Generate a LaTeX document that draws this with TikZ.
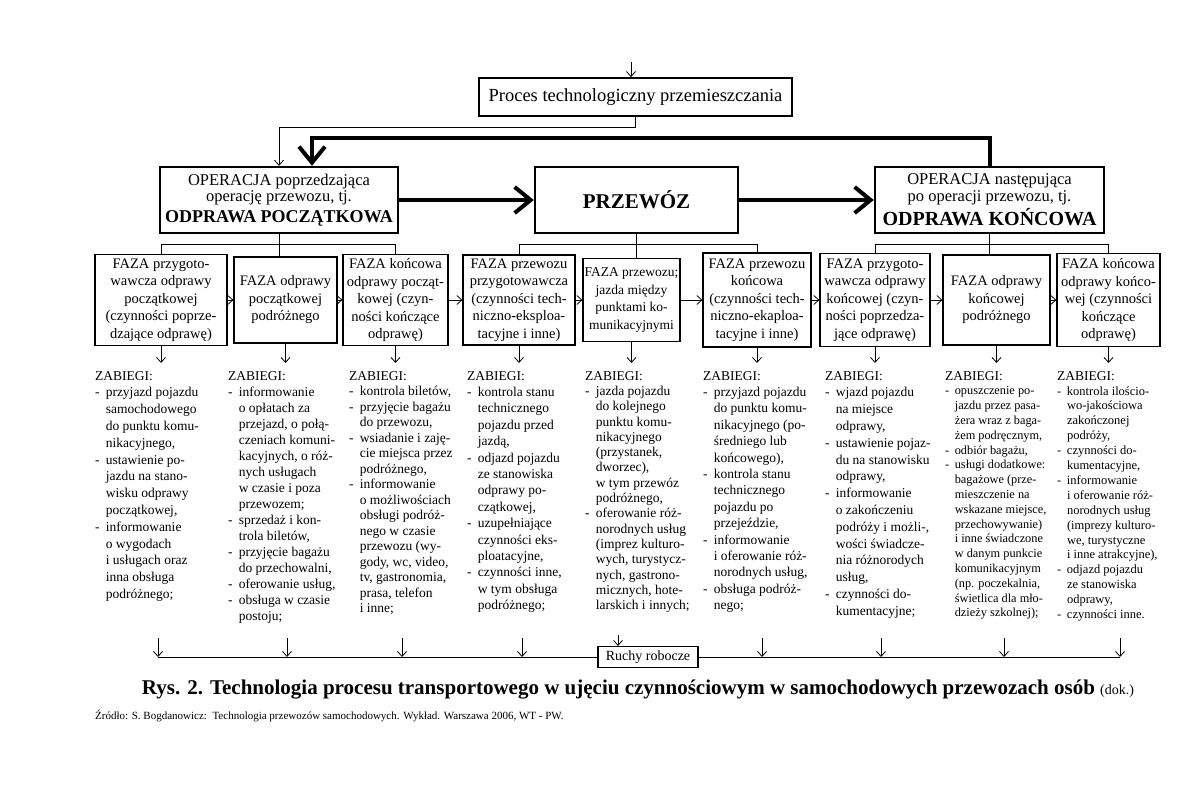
\documentclass[tikz,border=0pt]{standalone}
\usepackage{fontspec}
\setmainfont{Liberation Serif}
\usetikzlibrary{arrows.meta, positioning, calc}

% myslnik wyliczenia i wciecie kolejnych wierszy
\newcommand{\zb}{-\hspace{0.45em}}
\newcommand{\zi}{\hphantom{-\hspace{0.45em}}}

\begin{document}
\begin{tikzpicture}[x=1pt, y=-1pt,
  topbox/.style={draw, line width=1.8pt, inner sep=0pt, minimum width=313pt, minimum height=38pt, font=\fontsize{18.5}{20}\selectfont},
  opbox/.style={draw, line width=2.4pt, inner sep=0pt, align=center, minimum height=66pt, font=\fontsize{16.5}{16.5}\selectfont},
  phasebox/.style={draw, line width=1.2pt, inner sep=0pt, align=center, font=\fontsize{14.5}{17.5}\selectfont},
  zab/.style={anchor=north west, inner sep=0pt, align=left},
  thinarr/.style={-{Straight Barb[length=5pt, width=9pt]}, line width=0.8pt},
  bigarr/.style={-{Straight Barb[length=16pt, width=26pt]}, line width=4pt},
  link/.style={line width=0.8pt}
]
\useasboundingbox (0,0) rectangle (1196,792);

% ----- Proces (y = 97) -----
\node[topbox] (title) at (635.5,97) {Proces technologiczny przemieszczania};
\coordinate (tin) at (631,62);
\coordinate (split) at (0,127);
\coordinate (rail) at (0,138);

% ----- Operacje (y = 200) -----
\node[opbox, minimum width=238pt] (op1) at (279,200) {OPERACJA poprzedzająca\\operację przewozu, tj.\\[4pt]{\fontsize{18}{20}\selectfont\bfseries ODPRAWA POCZĄTKOWA}};
\node[opbox, minimum width=203pt] (op2) at (636.5,200) {\fontsize{21}{24}\selectfont\bfseries PRZEWÓZ};
\node[opbox, minimum width=229pt] (op3) at (989.5,200) {OPERACJA następująca\\po operacji przewozu, tj.\\[3pt]{\fontsize{20}{22}\selectfont\bfseries ODPRAWA KOŃCOWA}};
\coordinate (opin) at ($(op1.north)+(33,0)$);

% ----- Fazy (y = 300) -----
\coordinate (bar) at (0,244);
\node[phasebox, minimum width=132pt, minimum height=91pt] (p1) at (161,300) {FAZA przygoto-\\wawcza odprawy\\początkowej\\(czynności poprze-\\dzające odprawę)};
\node[phasebox, minimum width=103pt, minimum height=86pt] (p2) at (285.5,300) {FAZA odprawy\\początkowej\\podróżnego};
\node[phasebox, minimum width=105pt, minimum height=91pt] (p3) at (395.5,300) {FAZA końcowa\\odprawy począt-\\kowej (czyn-\\ności kończące\\odprawę)};
\node[phasebox, minimum width=112pt, minimum height=90pt] (p4) at (519,300) {FAZA przewozu\\przygotowawcza\\(czynności tech-\\niczno-eksploa-\\tacyjne i inne)};
\node[phasebox, minimum width=97pt, minimum height=83pt, font=\fontsize{13.5}{17.5}\selectfont] (p5) at (631.5,300) {FAZA przewozu;\\jazda między\\punktami ko-\\munikacyjnymi};
\node[phasebox, minimum width=108pt, minimum height=94pt] (p6) at (757,300) {FAZA przewozu\\końcowa\\(czynności tech-\\niczno-ekaploa-\\tacyjne i inne)};
\node[phasebox, minimum width=110pt, minimum height=93pt] (p7) at (875,300) {FAZA przygoto-\\wawcza odprawy\\końcowej (czyn-\\ności poprzedza-\\jące odprawę)};
\node[phasebox, minimum width=107pt, minimum height=90pt] (p8) at (996.5,300) {FAZA odprawy\\końcowej\\podróżnego};
\node[phasebox, minimum width=103pt, minimum height=93pt] (p9) at (1108.5,300) {FAZA końcowa\\odprawy końco-\\wej (czynności\\kończące\\odprawę)};

% ----- Zabiegi (y = 371) -----
\node[zab, font=\fontsize{13.5}{16.8}\selectfont] (z1) at (95,371) {ZABIEGI:\\
\zb przyjazd pojazdu\\
\zi samochodowego\\
\zi do punktu komu-\\
\zi nikacyjnego,\\
\zb ustawienie po-\\
\zi jazdu na stano-\\
\zi wisku odprawy\\
\zi początkowej,\\
\zb informowanie\\
\zi o wygodach\\
\zi i usługach oraz\\
\zi inna obsługa\\
\zi podróżnego;};
\node[zab, font=\fontsize{13.5}{16}\selectfont] (z2) at (228,371) {ZABIEGI:\\
\zb informowanie\\
\zi o opłatach za\\
\zi przejazd, o połą-\\
\zi czeniach komuni-\\
\zi kacyjnych, o róż-\\
\zi nych usługach\\
\zi w czasie i poza\\
\zi przewozem;\\
\zb sprzedaż i kon-\\
\zi trola biletów,\\
\zb przyjęcie bagażu\\
\zi do przechowalni,\\
\zb oferowanie usług,\\
\zb obsługa w czasie\\
\zi postoju;};
\node[zab, font=\fontsize{13.5}{15.5}\selectfont] (z3) at (349,371) {ZABIEGI:\\
\zb kontrola biletów,\\
\zb przyjęcie bagażu\\
\zi do przewozu,\\
\zb wsiadanie i zaję-\\
\zi cie miejsca przez\\
\zi podróżnego,\\
\zb informowanie\\
\zi o możliwościach\\
\zi obsługi podróż-\\
\zi nego w czasie\\
\zi przewozu (wy-\\
\zi gody, wc, video,\\
\zi tv, gastronomia,\\
\zi prasa, telefon\\
\zi i inne;};
\node[zab, font=\fontsize{13.5}{16.4}\selectfont] (z4) at (467,371) {ZABIEGI:\\
\zb kontrola stanu\\
\zi technicznego\\
\zi pojazdu przed\\
\zi jazdą,\\
\zb odjazd pojazdu\\
\zi ze stanowiska\\
\zi odprawy po-\\
\zi czątkowej,\\
\zb uzupełniające\\
\zi czynności eks-\\
\zi ploatacyjne,\\
\zb czynności inne,\\
\zi w tym obsługa\\
\zi podróżnego;};
\node[zab, font=\fontsize{13.5}{15.3}\selectfont] (z5) at (585,371) {ZABIEGI:\\
\zb jazda pojazdu\\
\zi do kolejnego\\
\zi punktu komu-\\
\zi nikacyjnego\\
\zi (przystanek,\\
\zi dworzec),\\
\zi w tym przewóz\\
\zi podróżnego,\\
\zb oferowanie róż-\\
\zi norodnych usług\\
\zi (imprez kulturo-\\
\zi wych, turystycz-\\
\zi nych, gastrono-\\
\zi micznych, hote-\\
\zi larskich i innych;};
\node[zab, font=\fontsize{13.5}{16.4}\selectfont] (z6) at (703,371) {ZABIEGI:\\
\zb przyjazd pojazdu\\
\zi do punktu komu-\\
\zi nikacyjnego (po-\\
\zi średniego lub\\
\zi końcowego),\\
\zb kontrola stanu\\
\zi technicznego\\
\zi pojazdu po\\
\zi przejeździe,\\
\zb informowanie\\
\zi i oferowanie róż-\\
\zi norodnych usług,\\
\zb obsługa podróż-\\
\zi nego;};
\node[zab, font=\fontsize{13.5}{16.8}\selectfont] (z7) at (825,371) {ZABIEGI:\\
\zb wjazd pojazdu\\
\zi na miejsce\\
\zi odprawy,\\
\zb ustawienie pojaz-\\
\zi du na stanowisku\\
\zi odprawy,\\
\zb informowanie\\
\zi o zakończeniu\\
\zi podróży i możli-,\\
\zi wości świadcze-\\
\zi nia różnorodych\\
\zi usług,\\
\zb czynności do-\\
\zi kumentacyjne;};
\node[zab, font=\fontsize{12.3}{14.8}\selectfont] (z8) at (945,371) {\fontsize{13.5}{14.8}\selectfont ZABIEGI:\\
\zb opuszczenie po-\\
\zi jazdu przez pasa-\\
\zi żera wraz z baga-\\
\zi żem podręcznym,\\
\zb odbiór bagażu,\\
\zb usługi dodatkowe:\\
\zi bagażowe (prze-\\
\zi mieszczenie na\\
\zi wskazane miejsce,\\
\zi przechowywanie)\\
\zi i inne świadczone\\
\zi w danym punkcie\\
\zi komunikacyjnym\\
\zi (np. poczekalnia,\\
\zi świetlica dla mło-\\
\zi dzieży szkolnej);};
\node[zab, font=\fontsize{12.5}{14.9}\selectfont] (z9) at (1057,371) {\fontsize{13.5}{14.9}\selectfont ZABIEGI:\\
\zb kontrola ilościo-\\
\zi wo-jakościowa\\
\zi zakończonej\\
\zi podróży,\\
\zb czynności do-\\
\zi kumentacyjne,\\
\zb informowanie\\
\zi i oferowanie róż-\\
\zi norodnych usług\\
\zi (imprezy kulturo-\\
\zi we, turystyczne\\
\zi i inne atrakcyjne),\\
\zb odjazd pojazdu\\
\zi ze stanowiska\\
\zi odprawy,\\
\zb czynności inne.};

% ----- Ruchy robocze (y = 657) -----
\node[draw, line width=1.2pt, fill=white, minimum width=100pt, minimum height=21pt, inner sep=0pt, font=\fontsize{14}{16}\selectfont] (ruchy) at (648,657) {Ruchy robocze};
\coordinate (mL) at (158,657);
\coordinate (mR) at (1120,657);

% ----- Podpis -----
\node (caption) at (638,690) {\fontsize{21}{24}\selectfont\bfseries Rys. 2. Technologia procesu transportowego w ujęciu czynnościowym w samochodowych przewozach osób {\mdseries\fontsize{14}{16}\selectfont(dok.)}};
\node[anchor=west, inner sep=0pt, font=\fontsize{11}{12}\selectfont] (source) at (95,716) {Źródło: S. Bogdanowicz:\ \ Technologia przewozów samochodowych. Wykład. Warszawa 2006, WT - PW.};

% ----- Polaczenia gorne -----
\draw[thinarr] (tin) -- (tin |- title.north);
\draw[thinarr] (title.south) |- (split -| op1.north) -- (op1.north);
\draw[bigarr] (op3.north) |- (rail -| opin) -- (opin);
\draw[bigarr] (op1) -- (op2);
\draw[bigarr] (op2) -- (op3);

% ----- Operacje do faz -----
\draw[link] (op1.south) -- (op1.south |- p2.north);
\draw[link] (p1.north) |- (bar -| p3.north) -- (p3.north);
\draw[link] (op2.south) -- (op2.south |- p5.north);
\draw[link] (p4.north) |- (bar -| p6.north) -- (p6.north);
\draw[link] (op3.south) -- (op3.south |- p8.north);
\draw[link] (p7.north) |- (bar -| p9.north) -- (p9.north);

% ----- Fazy kolejno -----
\draw[thinarr] (p1) -- (p2);
\draw[thinarr] (p2) -- (p3);
\draw[thinarr] (p3) -- (p4);
\draw[thinarr] (p4) -- (p5);
\draw[thinarr] (p5) -- (p6);
\draw[thinarr] (p6) -- (p7);
\draw[thinarr] (p7) -- (p8);
\draw[thinarr] (p8) -- (p9);

% ----- Fazy do zabiegow -----
\draw[thinarr, shorten >=8pt] (p1.south) -- (p1.south |- z1.north);
\draw[thinarr, shorten >=8pt] (p2.south) -- (p2.south |- z2.north);
\draw[thinarr, shorten >=8pt] (p3.south) -- (p3.south |- z3.north);
\draw[thinarr, shorten >=8pt] (p4.south) -- (p4.south |- z4.north);
\draw[thinarr, shorten >=8pt] (p5.south) -- (p5.south |- z5.north);
\draw[thinarr, shorten >=8pt] (p6.south) -- (p6.south |- z6.north);
\draw[thinarr, shorten >=8pt] (p7.south) -- (p7.south |- z7.north);
\draw[thinarr, shorten >=8pt] (p8.south) -- (p8.south |- z8.north);
\draw[thinarr, shorten >=8pt] (p9.south) -- (p9.south |- z9.north);

% ----- Zabiegi do ruchow roboczych -----
\draw[link] (mL) -- (ruchy) -- (mR);
\foreach \x in {158,287,402,522,762,881,1004,1120}
  \draw[thinarr] (\x,638) -- (\x,657);
\draw[thinarr] ([xshift=-30pt]ruchy.north) ++(0,-11) -- ([xshift=-30pt]ruchy.north);

\end{tikzpicture}
\end{document}
